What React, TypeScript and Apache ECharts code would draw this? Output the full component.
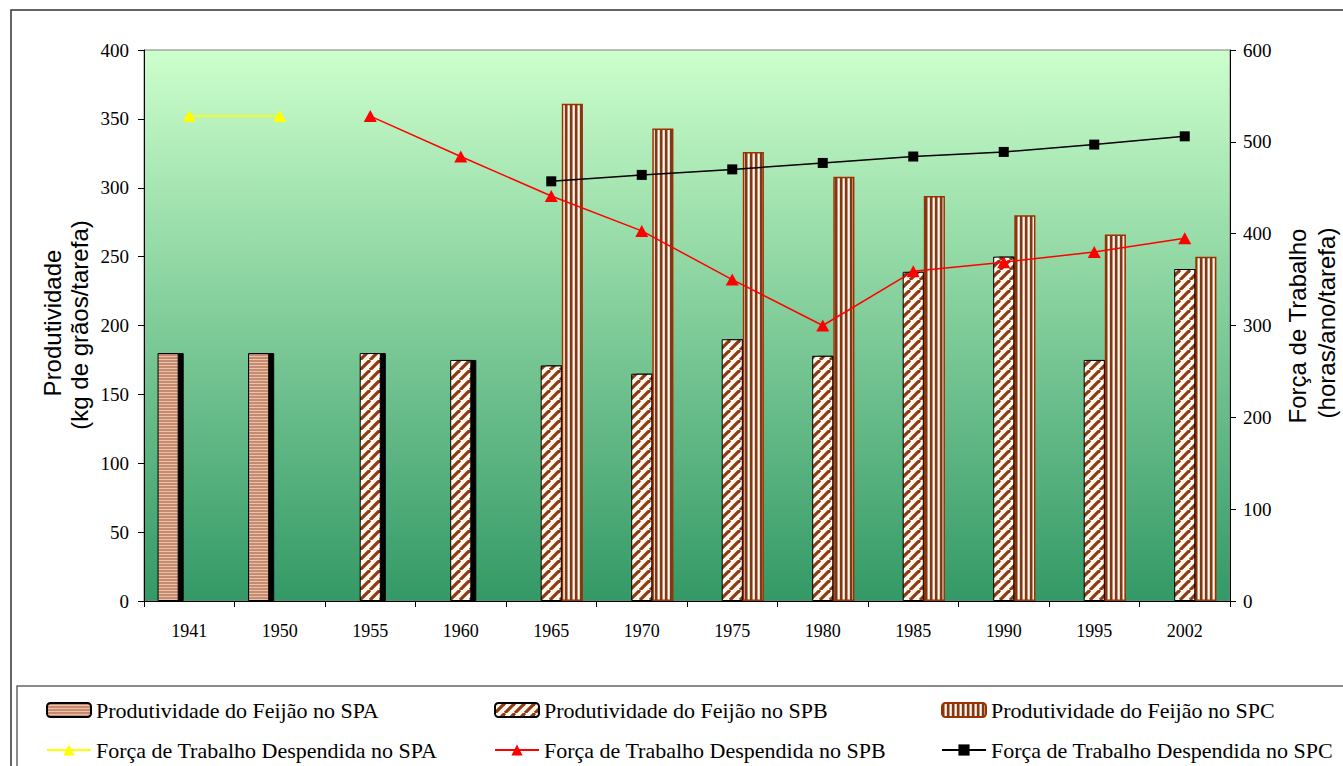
import React, { useEffect, useRef } from 'react';
import * as echarts from 'echarts';

const categories = ['1941', '1950', '1955', '1960', '1965', '1970', '1975', '1980', '1985', '1990', '1995', '2002'];

const prodSPA = [180, 180, null, null, null, null, null, null, null, null, null, null];
const prodSPB = [null, null, 180, 175, 171, 165, 190, 178, 239, 250, 175, 241];
const prodSPC = [null, null, null, null, 361, 343, 326, 308, 294, 280, 266, 250];

const forcaSPA = [528, 528, null, null, null, null, null, null, null, null, null, null];
const forcaSPB = [null, null, 528, 484, 441, 403, 350, 300, 359, 369, 380, 395];
const forcaSPC = [null, null, null, null, 457, 464, 470, 477, 484, 489, 497, 506];

const seriesNames = [
  'Produtividade do Feijão no SPA',
  'Produtividade do Feijão no SPB',
  'Produtividade do Feijão no SPC',
  'Força de Trabalho Despendida no SPA',
  'Força de Trabalho Despendida no SPB',
  'Força de Trabalho Despendida no SPC',
];

const leftTitle = ['Produtividade', '(kg de grãos/tarefa)'];
const rightTitle = ['Força de Trabalho', '(horas/ano/tarefa)'];

function tile(w: number, h: number, draw: (ctx: CanvasRenderingContext2D) => void) {
  const c = document.createElement('canvas');
  c.width = w;
  c.height = h;
  const ctx = c.getContext('2d')!;
  draw(ctx);
  return { image: c.toDataURL(), repeat: 'repeat', imageWidth: w, imageHeight: h } as any;
}

export default function App() {
  const ref = useRef<HTMLDivElement>(null);

  useEffect(() => {
    const chart = echarts.init(ref.current!, null, { renderer: 'svg' });

    const patSPA = tile(6, 3, (ctx) => {
      ctx.fillStyle = '#C68B6E';
      ctx.fillRect(0, 0, 6, 3);
      ctx.fillStyle = '#E9C2AC';
      ctx.fillRect(0, 2, 6, 1);
    });
    const patSPB = tile(10, 10, (ctx) => {
      ctx.fillStyle = '#FFF8EE';
      ctx.fillRect(0, 0, 10, 10);
      ctx.strokeStyle = '#8B3A14';
      ctx.lineWidth = 3.2;
      for (const k of [-10, 0, 10]) {
        ctx.beginPath();
        ctx.moveTo(k, 10);
        ctx.lineTo(k + 10, 0);
        ctx.stroke();
      }
    });
    const patSPC = tile(5, 4, (ctx) => {
      ctx.fillStyle = '#FFF8F0';
      ctx.fillRect(0, 0, 5, 4);
      ctx.fillStyle = '#7A3A1C';
      ctx.fillRect(0, 0, 2, 4);
      ctx.fillStyle = '#C8906E';
      ctx.fillRect(2, 0, 1, 4);
      ctx.fillStyle = '#EED2BE';
      ctx.fillRect(4, 0, 1, 4);
    });

    const serif = 'Liberation Serif, Times New Roman, serif';
    const sans = 'Liberation Sans, Arial, sans-serif';

    const legendAt = (name: string, left: number, top: number) => ({
      data: [name],
      left,
      top,
      padding: 0,
      itemWidth: 44,
      itemHeight: 14,
      selectedMode: false,
      textStyle: { fontFamily: serif, fontSize: 22, color: '#000' },
      itemStyle: { shadowBlur: 0, shadowOffsetX: 0, shadowOffsetY: 0, shadowColor: 'rgba(0,0,0,0)' },
    });

    const titleText = (text: string, x: number, y: number) => ({
      type: 'text',
      x,
      y,
      rotation: Math.PI / 2,
      style: {
        text,
        fill: '#000',
        font: `24px ${sans}`,
        fontSize: 24,
        fontFamily: sans,
        align: 'center',
        verticalAlign: 'middle',
        textAlign: 'center',
        textVerticalAlign: 'middle',
      },
    });

    const shadowStyle = {
      shadowColor: '#000',
      shadowBlur: 0,
      shadowOffsetX: 5,
      shadowOffsetY: 0,
    };

    const option: any = {
      animation: false,
      backgroundColor: '#FFFFFF',
      grid: {
        left: 144,
        right: 113,
        top: 50,
        bottom: 165,
        show: true,
        borderColor: '#808080',
        borderWidth: 1,
        backgroundColor: {
          type: 'linear',
          x: 0,
          y: 0,
          x2: 0,
          y2: 1,
          colorStops: [
            { offset: 0, color: '#CCFFCC' },
            { offset: 1, color: '#339966' },
          ],
        },
      },
      legend: [
        legendAt(seriesNames[0], 46, 699),
        legendAt(seriesNames[1], 494, 699),
        legendAt(seriesNames[2], 941, 699),
        legendAt(seriesNames[3], 46, 739),
        legendAt(seriesNames[4], 494, 739),
        legendAt(seriesNames[5], 941, 739),
      ],
      xAxis: {
        type: 'category',
        data: categories,
        boundaryGap: true,
        axisLine: { lineStyle: { color: '#000', width: 1 } },
        axisTick: { show: true, length: 6, inside: false, lineStyle: { color: '#000' } },
        axisLabel: { color: '#000', fontFamily: serif, fontSize: 18, margin: 21 },
        splitLine: { show: false },
      },
      yAxis: [
        {
          type: 'value',
          min: 0,
          max: 400,
          interval: 50,
          position: 'left',
          axisLine: { show: true, lineStyle: { color: '#000', width: 1 } },
          axisTick: { show: true, length: 6, inside: false, lineStyle: { color: '#000' } },
          axisLabel: { color: '#000', fontFamily: serif, fontSize: 19, margin: 15 },
          splitLine: { show: false },
        },
        {
          type: 'value',
          min: 0,
          max: 600,
          interval: 100,
          position: 'right',
          axisLine: { show: true, lineStyle: { color: '#000', width: 1 } },
          axisTick: { show: true, length: 6, inside: false, lineStyle: { color: '#000' } },
          axisLabel: { color: '#000', fontFamily: serif, fontSize: 19, margin: 13 },
          splitLine: { show: false },
        },
      ],
      series: [
        {
          name: seriesNames[0],
          type: 'bar',
          yAxisIndex: 0,
          data: prodSPA,
          barGap: '0%',
          barCategoryGap: '30%',
          itemStyle: { color: patSPA, borderColor: '#000', borderWidth: 1, ...shadowStyle },
        },
        {
          name: seriesNames[1],
          type: 'bar',
          yAxisIndex: 0,
          data: prodSPB,
          barGap: '0%',
          barCategoryGap: '30%',
          itemStyle: { color: patSPB, borderColor: '#000', borderWidth: 1, ...shadowStyle },
        },
        {
          name: seriesNames[2],
          type: 'bar',
          yAxisIndex: 0,
          data: prodSPC,
          barGap: '0%',
          barCategoryGap: '30%',
          itemStyle: { color: patSPC, borderColor: '#993300', borderWidth: 1.5 },
        },
        {
          name: seriesNames[3],
          type: 'line',
          yAxisIndex: 1,
          data: forcaSPA,
          z: 5,
          symbol: 'triangle',
          symbolSize: [13, 12],
          lineStyle: { color: '#FFFF00', width: 1.5 },
          itemStyle: { color: '#FFFF00' },
        },
        {
          name: seriesNames[4],
          type: 'line',
          yAxisIndex: 1,
          data: forcaSPB,
          z: 5,
          symbol: 'triangle',
          symbolSize: [13, 12],
          lineStyle: { color: '#FF0000', width: 1.5 },
          itemStyle: { color: '#FF0000' },
        },
        {
          name: seriesNames[5],
          type: 'line',
          yAxisIndex: 1,
          data: forcaSPC,
          z: 5,
          symbol: 'rect',
          symbolSize: 10,
          lineStyle: { color: '#000000', width: 1.5 },
          itemStyle: { color: '#000000' },
        },
      ],
      graphic: [
        {
          type: 'rect',
          silent: true,
          z: -1,
          shape: { x: 11, y: 10, width: 1400, height: 800 },
          style: { fill: 'none', stroke: '#333333', lineWidth: 1.5 },
        },
        {
          type: 'rect',
          silent: true,
          z: -1,
          shape: { x: 17, y: 686, width: 1400, height: 200 },
          style: { fill: 'none', stroke: '#666666', lineWidth: 1.5 },
        },
        titleText(leftTitle[0], 52, 323),
        titleText(leftTitle[1], 79, 325),
        titleText(rightTitle[0], 1297, 326),
        titleText(rightTitle[1], 1326, 323),
      ],
    };

    chart.setOption(option);
    return () => chart.dispose();
  }, []);

  return (
    <div
      ref={ref}
      style={{ position: 'absolute', left: 0, top: 0, width: 1343, height: 766, background: '#fff' }}
    />
  );
}
